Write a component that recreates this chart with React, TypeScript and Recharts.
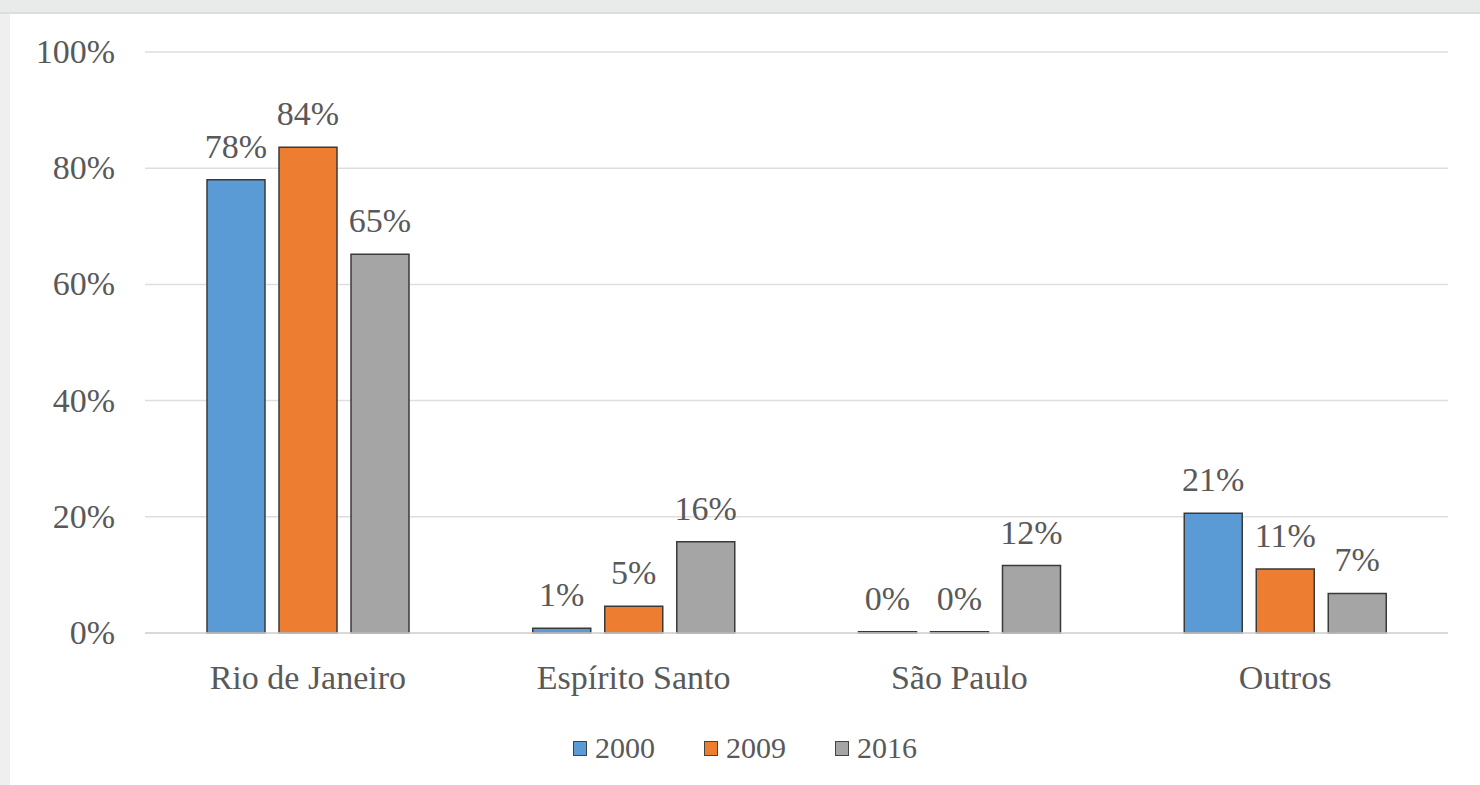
import React from 'react';
import { BarChart, Bar, XAxis, YAxis, CartesianGrid, LabelList, Legend } from 'recharts';

const categories = ['Rio de Janeiro', 'Espírito Santo', 'São Paulo', 'Outros'];
const series2000 = [78.0, 0.8, 0.2, 20.6];
const series2009 = [83.6, 4.6, 0.2, 11.0];
const series2016 = [65.2, 15.7, 11.6, 6.8];
const seriesNames = ['2000', '2009', '2016'];
const seriesColors = ['#5B9BD5', '#ED7D31', '#A5A5A5'];
const yTicks = [0, 20, 40, 60, 80, 100];

const data = categories.map((c, i) => ({
  name: c,
  s2000: series2000[i],
  s2009: series2009[i],
  s2016: series2016[i],
}));

const FONT = '"Times New Roman", Tinos, "Liberation Serif", FreeSerif, serif';
const TEXT = '#595959';

const fmt = (v: any) => `${Math.round(Number(v))}%`;

const LegendContent = (props: any) => {
  const payload = props.payload || [];
  return (
    <div style={{ display: 'flex', justifyContent: 'center', alignItems: 'center', fontFamily: FONT, fontSize: 30, color: TEXT, lineHeight: '34px' }}>
      {payload.map((p: any, i: number) => (
        <div key={i} style={{ display: 'flex', alignItems: 'center', marginRight: i < payload.length - 1 ? 49 : 0 }}>
          <span style={{ display: 'inline-block', width: 12, height: 13, background: p.color, border: '1.5px solid #444', marginRight: 8 }} />
          <span style={{ fontFamily: FONT }}>{p.value}</span>
        </div>
      ))}
    </div>
  );
};

const XTick = (props: any) => {
  const { x, y, payload } = props;
  return (
    <text x={x} y={y} dy={26} textAnchor="middle" fill={TEXT} fontFamily={FONT} fontSize={34}>
      {payload.value}
    </text>
  );
};

const YTick = (props: any) => {
  const { x, y, payload } = props;
  return (
    <text x={x} y={y} dy={11} textAnchor="end" fill={TEXT} fontFamily={FONT} fontSize={34}>
      {`${payload.value}%`}
    </text>
  );
};

export default function App() {
  const keys = ['s2000', 's2009', 's2016'];
  return (
    <div style={{ position: 'absolute', left: 0, top: 0, width: 1480, height: 785, background: '#e9ebea', overflow: 'hidden', fontFamily: FONT }}>
      <div style={{ position: 'absolute', left: 0, top: 14, width: 10, height: 771, background: '#efefef' }} />
      <div style={{ position: 'absolute', left: 0, top: 12, width: 1480, height: 2, background: '#dcdedd' }} />
      <div style={{ position: 'absolute', left: 10, top: 14, width: 1470, height: 771, background: '#ffffff' }}>
        <BarChart
          width={1470}
          height={771}
          data={data}
          margin={{ top: 38, right: 32, left: 0, bottom: 0 }}
          barSize={58}
          barGap={14}
        >
          <CartesianGrid vertical={false} stroke="#dedede" strokeWidth={1.5} />
          <XAxis
            dataKey="name"
            height={152}
            tickLine={false}
            tickSize={0}
            tickMargin={30}
            axisLine={{ stroke: '#d4d4d4', strokeWidth: 1.5 }}
            tick={<XTick />}
          />
          <YAxis
            width={135}
            domain={[0, 100]}
            ticks={yTicks}
            tickLine={false}
            axisLine={false}
            tickSize={0}
            tickMargin={30}
            tick={<YTick />}
          />
          <Legend
            layout="horizontal"
            verticalAlign="middle"
            align="center"
            wrapperStyle={{ top: 717, left: 0, width: 1470 }}
            content={<LegendContent />}
          />
          {keys.map((k, i) => (
            <Bar key={k} dataKey={k} name={seriesNames[i]} fill={seriesColors[i]} stroke="#3a3a3a" strokeWidth={1.5} isAnimationActive={false}>
              <LabelList dataKey={k} position="top" offset={22} formatter={fmt} fill={TEXT} fontFamily={FONT} fontSize={34} />
            </Bar>
          ))}
        </BarChart>
      </div>
    </div>
  );
}
